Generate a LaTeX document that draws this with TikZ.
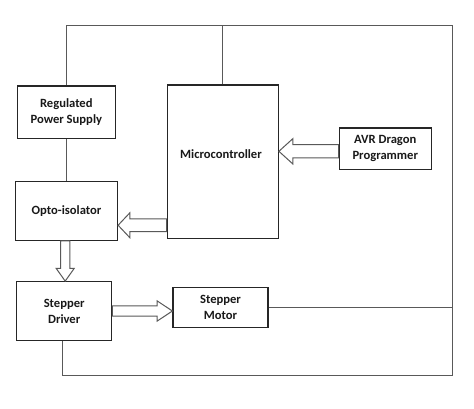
\documentclass[tikz,border=0pt]{standalone}
\usepackage{fontspec}
\setmainfont{Carlito}
\usetikzlibrary{calc}
\tikzset{
  lbl/.style={font=\fontsize{12.6}{16}\selectfont\bfseries, text=black!90},
  blk/.style={lbl, draw=black!85, line width=1.2pt, fill=white, align=center, inner sep=0pt},
  wire/.style={draw=black!65, line width=1pt},
  barrow/.style={draw=black!65, line width=1pt, fill=white, line join=miter},
}
% #1 start, #2 tip, #3 shaft half width, #4 head half width, #5 head length
\newcommand\blockarrow[5]{%
  \path ($(#2)!#5!(#1)$) coordinate (ba);
  \draw[barrow] ($(#1)!#3!90:(#2)$) -- ($(ba)!#3!90:(#2)$) -- ($(ba)!#4!90:(#2)$)
    -- (#2) -- ($(ba)!#4!-90:(#2)$) -- ($(ba)!#3!-90:(#2)$) -- ($(#1)!#3!-90:(#2)$) -- cycle;}
\begin{document}
\begin{tikzpicture}[x=1pt,y=-1pt]
\useasboundingbox[fill=white] (0,0) rectangle (474,408);
\coordinate (tr) at (452,25);
\coordinate (br) at (452,375);
\node[blk, minimum width=98pt, minimum height=52.3pt] (rps) at (66.3,112.2) {Regulated\\Power Supply};
\node[blk, minimum width=111pt, minimum height=153.7pt] (mc) at (222.8,161.8) {};
\node[lbl, inner sep=0pt] (mct) at (221,154) {Microcontroller};
\node[blk, minimum width=92pt, minimum height=41.3pt] (avr) at (385.3,148.7) {AVR Dragon\\Programmer};
\node[blk, minimum width=102pt, minimum height=58.6pt] (opto) at (66.5,211) {Opto-isolator};
\node[blk, minimum width=95pt, minimum height=58.6pt] (drv) at (64.2,311) {Stepper\\Driver};
\node[blk, minimum width=95pt, minimum height=40pt] (mot) at (220.5,307.7) {Stepper\\Motor};
% wires
\draw[wire] (rps.north) |- (tr) -- (br) -| ([xshift=-2pt]drv.south);
\draw[wire] (mc.north) -- (mc.north |- tr);
\draw[wire] (rps.south) -- (rps.south |- opto.north);
\draw[wire] (mot.east) -- (mot.east -| tr);
% block arrows
\coordinate (a1s) at ($(avr.west)+(0,2.6)$);
\coordinate (a1t) at (mc.east |- a1s);
\blockarrow{a1s}{a1t}{6.6pt}{12.7pt}{14pt}
\coordinate (a2s) at ($(mc.south west)+(0,-14)$);
\coordinate (a2t) at (opto.east |- a2s);
\blockarrow{a2s}{a2t}{6.3pt}{12.4pt}{11.7pt}
\coordinate (a3t) at ($(drv.north)+(1,0)$);
\coordinate (a3s) at (opto.south -| a3t);
\blockarrow{a3s}{a3t}{4.7pt}{9pt}{12.7pt}
\coordinate (a4s) at (drv.east);
\coordinate (a4t) at (mot.west |- a4s);
\blockarrow{a4s}{a4t}{5.2pt}{10.2pt}{15.4pt}
\end{tikzpicture}
\end{document}
